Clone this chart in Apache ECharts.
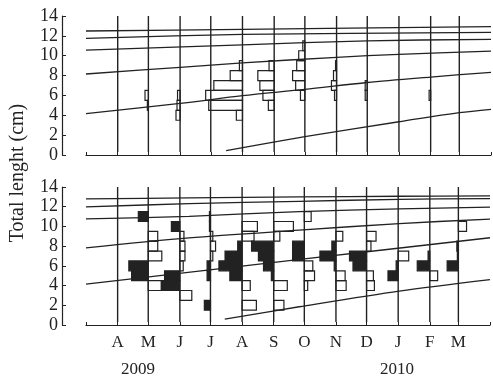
<!DOCTYPE html>
<html>
<head>
<meta charset="utf-8">
<script src="https://cdn.jsdelivr.net/npm/echarts@6/dist/echarts.min.js"></script>
<style>
  html, body { margin: 0; padding: 0; background: #fff; }
  #chart { width: 493px; height: 379px; }
</style>
</head>
<body>
<div id="chart"></div>
<script>
  // sampling months = vertical lines the histograms hang on
  var months = ['2009-04-01','2009-05-01','2009-06-01','2009-07-01','2009-08-01','2009-09-01',
                '2009-10-01','2009-11-01','2009-12-01','2010-01-01','2010-02-01','2010-03-01'];
  var monthLetters = ['J','F','M','A','M','J','J','A','S','O','N','D'];
  var yearLabels = ['2009', '2010'];
  var yTitle = 'Total lenght (cm)';

  // growth curves, top panel  [date, length cm]
  var topCurve1 = [['2009-03-01',12.49],['2009-08-01',12.66],['2010-04-01',12.92]];
  var topCurve2 = [['2009-03-01',11.75],['2009-08-01',12.14],['2010-04-01',12.36]];
  var topCurve3 = [['2009-03-01',10.57],['2009-08-01',11.1],['2009-12-01',11.5],['2010-04-01',11.65]];
  var topCurve4 = [['2009-03-01',8.16],['2009-06-01',8.83],['2009-08-01',9.28],['2009-11-01',9.84],['2010-01-01',10.14],['2010-04-01',10.47]];
  var topCurve5 = [['2009-03-01',4.16],['2009-06-01',5.2],['2009-08-01',5.97],['2009-10-01',6.6],['2009-12-01',7.3],['2010-02-01',7.85],['2010-04-01',8.33]];
  var topCurve6 = [['2009-07-16',0.45],['2009-10-01',1.84],['2010-01-01',3.35],['2010-03-01',4.26],['2010-04-01',4.6]];

  // growth curves, bottom panel
  var botCurve1 = [['2009-03-01',12.8],['2009-06-10',12.89],['2009-09-26',12.99],['2010-01-02',13.06],['2010-04-01',13.1]];
  var botCurve2 = [['2009-03-01',11.98],['2009-06-10',12.31],['2009-09-26',12.55],['2010-01-02',12.75],['2010-04-01',12.82]];
  var botCurve3 = [['2009-03-01',10.76],['2009-06-10',11.03],['2009-09-26',11.5],['2010-01-02',11.78],['2010-04-01',11.95]];
  var botCurve4 = [['2009-03-01',7.83],['2009-06-10',8.84],['2009-09-26',9.62],['2010-01-02',10.29],['2010-04-01',10.75]];
  var botCurve5 = [['2009-03-01',4.15],['2009-10-01',6.7],['2010-04-01',8.85]];
  var botCurve6 = [['2009-07-15',0.6],['2009-09-26',1.85],['2010-01-02',3.44],['2010-04-01',4.6]];

  // length-frequency bars: [month index, size class (cm), frequency]
  var topOpen = [
    [1,6,3.3],[1,5,1],
    [2,6,2.5],[2,5,3],[2,4,4],
    [4,9,3],[4,8,12],[4,7,28],[4,6,36],[4,5,33],[4,4,6],
    [5,9,5],[5,8,16],[5,7,14],[5,6,11],[5,5,5.7],
    [6,11,2],[6,10,6],[6,9,8],[6,8,12],[6,7,9],[6,6,4.3],
    [7,9,1],[7,8,3],[7,7,5],[7,6,2],
    [8,7,2],[8,6,2],
    [10,6,1.5]
  ];
  var botFilled = [
    [1,11,9.7],[1,6,19],[1,5,16.3],
    [2,10,8.3],[2,5,15],[2,4,18.3],
    [3,11,1],[3,10,1],[3,6,3.3],[3,5,3.3],[3,2,6],
    [4,8,4.3],[4,7,16.7],[4,6,22.7],[4,5,12],
    [5,8,21.7],[5,7,15],[5,6,10],[5,5,2.3],
    [6,8,11.5],[6,7,11.5],
    [7,8,4],[7,7,15.7],[7,6,1.7],
    [8,7,16.7],[8,6,13.3],
    [9,6,2],[9,5,10],
    [10,7,1.7],[10,6,12.3],
    [11,8,1.5],[11,7,1],[11,6,11]
  ];
  var botOpen = [
    [1,9,9.3],[1,8,9.3],[1,7,13.3],[1,4,13.3],
    [2,9,4],[2,8,5],[2,7,5],[2,6,3.3],[2,3,11.7],
    [3,9,2.3],[3,8,5],[3,7,2.3],
    [4,10,15],[4,9,11.7],[4,4,8],[4,2,14],
    [5,10,19.3],[5,9,6],[5,4,13.3],[5,2,10],
    [6,11,6.7],[6,6,8.3],[6,5,10],[6,4,3.3],
    [7,9,6.7],[7,5,9],[7,4,10],
    [8,9,9.3],[8,8,4.3],[8,5,6.7],[8,4,7.7],
    [9,7,10.3],
    [10,5,7.7],
    [11,10,8]
  ];

  var INK = '#222';
  var SERIF = "'Liberation Serif', 'DejaVu Serif', serif";
  var DAY = 86400000;
  var VLINE_FLOOR = 0.3;

  function toTime(s) { return new Date(s + 'T00:00:00').getTime(); }
  var monthTimes = months.map(toTime);
  var xMin = toTime('2009-03-01');
  var xMax = toTime('2010-04-01');

  function barData(list, dir, filled) {
    return list.map(function (d) { return [monthTimes[d[0]], d[1], d[2], dir, filled]; });
  }

  function renderBar(params, api) {
    var t = api.value(0), bin = api.value(1), f = api.value(2), dir = api.value(3), filled = api.value(4);
    var a = api.coord([t, bin + 0.5]);
    var b = api.coord([t + dir * f * DAY, bin - 0.5]);
    return {
      type: 'rect',
      shape: { x: Math.min(a[0], b[0]), y: a[1], width: Math.abs(b[0] - a[0]), height: b[1] - a[1] },
      style: { fill: filled ? INK : 'none', stroke: INK, lineWidth: 1.2 }
    };
  }

  function renderVLine(params, api) {
    var top = api.coord([api.value(0), 14]);
    var bot = api.coord([api.value(0), VLINE_FLOOR]);
    return {
      type: 'line',
      shape: { x1: top[0], y1: top[1], x2: bot[0], y2: bot[1] },
      style: { stroke: INK, lineWidth: 1.4 }
    };
  }

  function xAxis(grid, showLabels, offset) {
    return {
      type: 'time', gridIndex: grid, min: xMin, max: xMax, offset: offset,
      splitNumber: 13, minInterval: 28 * DAY, maxInterval: 31 * DAY,
      axisLine: { lineStyle: { color: INK, width: 1.2 } },
      axisTick: { inside: true, length: 3, lineStyle: { color: INK, width: 1 } },
      axisLabel: {
        show: showLabels, margin: 9, color: INK, fontFamily: SERIF, fontSize: 17,
        hideOverlap: false,
        formatter: function (v) {
          if (v <= xMin || v >= xMax) return '';
          return monthLetters[new Date(v).getMonth()];
        }
      },
      splitLine: { show: false }
    };
  }

  function yAxis(grid) {
    return {
      type: 'value', gridIndex: grid, min: 0, max: 14, interval: 2, offset: 24,
      axisLine: { show: true, lineStyle: { color: INK, width: 1.2 } },
      axisTick: { show: true, inside: true, length: 4, lineStyle: { color: INK } },
      axisLabel: { margin: 4, color: INK, fontFamily: SERIF, fontSize: 18 },
      splitLine: { show: false }
    };
  }

  function curve(data, grid) {
    return {
      type: 'line', xAxisIndex: grid, yAxisIndex: grid, data: data,
      smooth: 0.3, showSymbol: false, silent: true, z: 3,
      lineStyle: { color: INK, width: 1.3 }
    };
  }

  var series = [];
  [0, 1].forEach(function (g) {
    series.push({
      type: 'custom', xAxisIndex: g, yAxisIndex: g, renderItem: renderVLine,
      data: monthTimes.map(function (t) { return [t]; }), silent: true, z: 2
    });
  });
  [topCurve1, topCurve2, topCurve3, topCurve4, topCurve5, topCurve6].forEach(function (c) { series.push(curve(c, 0)); });
  [botCurve1, botCurve2, botCurve3, botCurve4, botCurve5, botCurve6].forEach(function (c) { series.push(curve(c, 1)); });
  series.push({ type: 'custom', xAxisIndex: 0, yAxisIndex: 0, renderItem: renderBar, data: barData(topOpen, -1, 0), silent: true, z: 4 });
  series.push({ type: 'custom', xAxisIndex: 1, yAxisIndex: 1, renderItem: renderBar, data: barData(botFilled, -1, 1), silent: true, z: 4 });
  series.push({ type: 'custom', xAxisIndex: 1, yAxisIndex: 1, renderItem: renderBar, data: barData(botOpen, 1, 0), silent: true, z: 4 });

  var chart = echarts.init(document.getElementById('chart'));
  chart.setOption({
    animation: false,
    backgroundColor: '#fff',
    grid: [
      { left: 86, right: 2, top: 16, height: 139 },
      { left: 86, right: 2, top: 187, height: 138 }
    ],
    xAxis: [xAxis(0, false, 2), xAxis(1, true, 0)],
    yAxis: [yAxis(0), yAxis(1)],
    graphic: [
      { type: 'text', x: 18, y: 173, rotation: Math.PI / 2,
        style: { text: yTitle, fontFamily: SERIF, fontSize: 20, fill: INK, align: 'center', verticalAlign: 'middle' } },
      { type: 'text', x: 138, y: 370,
        style: { text: yearLabels[0], fontFamily: SERIF, fontSize: 17, fill: INK, align: 'center', verticalAlign: 'middle' } },
      { type: 'text', x: 397, y: 370,
        style: { text: yearLabels[1], fontFamily: SERIF, fontSize: 17, fill: INK, align: 'center', verticalAlign: 'middle' } }
    ],
    series: series
  });
</script>
</body>
</html>
